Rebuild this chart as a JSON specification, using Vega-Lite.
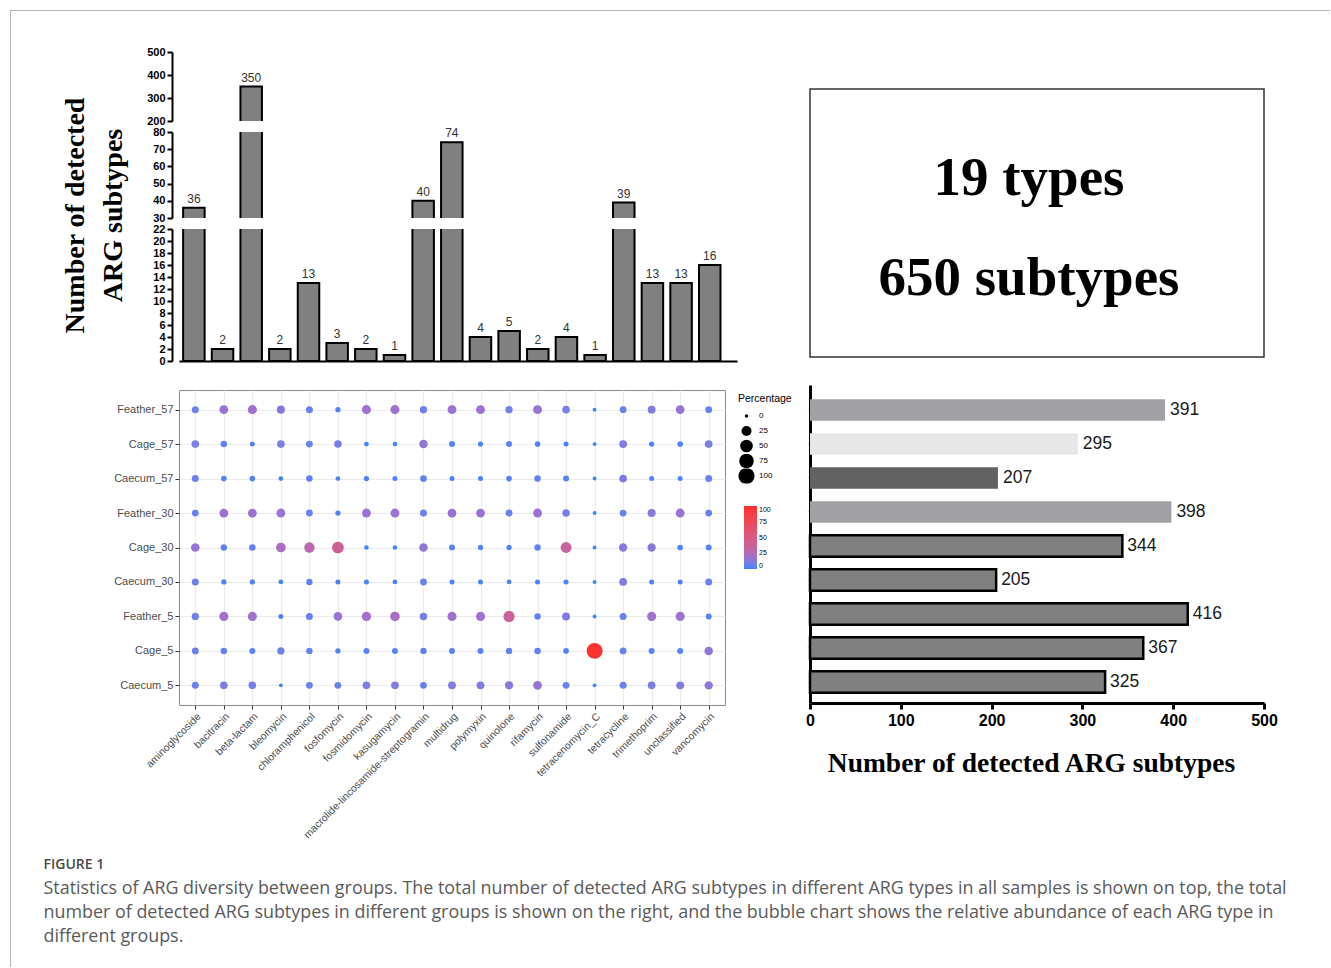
{
  "$schema": "https://vega.github.io/schema/vega-lite/v6.json",
  "padding": {"left": 10, "top": 10, "right": 0, "bottom": 0},
  "background": "white",
  "bounds": "flush",
  "spacing": 33,
  "resolve": {"scale": {"color": "independent", "size": "independent"}, "legend": {"color": "independent", "size": "independent"}},
  "config": {
    "view": {"stroke": null},
    "font": "Liberation Sans",
    "axis": {"labelFont": "Liberation Sans", "titleFont": "Liberation Sans"},
    "legend": {"labelFont": "Liberation Sans", "titleFont": "Liberation Sans"}
  },
  "datasets": {
    "bars": [
      {"type": "aminoglycoside", "n": 36},
      {"type": "bacitracin", "n": 2},
      {"type": "beta-lactam", "n": 350},
      {"type": "bleomycin", "n": 2},
      {"type": "chloramphenicol", "n": 13},
      {"type": "fosfomycin", "n": 3},
      {"type": "fosmidomycin", "n": 2},
      {"type": "kasugamycin", "n": 1},
      {"type": "macrolide-lincosamide-streptogramin", "n": 40},
      {"type": "multidrug", "n": 74},
      {"type": "polymyxin", "n": 4},
      {"type": "quinolone", "n": 5},
      {"type": "rifamycin", "n": 2},
      {"type": "sulfonamide", "n": 4},
      {"type": "tetracenomycin_C", "n": 1},
      {"type": "tetracycline", "n": 39},
      {"type": "trimethoprim", "n": 13},
      {"type": "unclassified", "n": 13},
      {"type": "vancomycin", "n": 16}
    ],
    "groups": [
      {"group": "Feather_57", "n": 391},
      {"group": "Cage_57", "n": 295},
      {"group": "Caecum_57", "n": 207},
      {"group": "Feather_30", "n": 398},
      {"group": "Cage_30", "n": 344},
      {"group": "Caecum_30", "n": 205},
      {"group": "Feather_5", "n": 416},
      {"group": "Cage_5", "n": 367},
      {"group": "Caecum_5", "n": 325}
    ],
    "summary": [
      {"line": 1, "text": "19 types"},
      {"line": 2, "text": "650 subtypes"}
    ],
    "caption": [
      {"line": 0, "text": "FIGURE 1"},
      {"line": 1, "text": "Statistics of ARG diversity between groups. The total number of detected ARG subtypes in different ARG types in all samples is shown on top, the total"},
      {"line": 2, "text": "number of detected ARG subtypes in different groups is shown on the right, and the bubble chart shows the relative abundance of each ARG type in"},
      {"line": 3, "text": "different groups."}
    ],
    "bubbles": [
      {"group":"Feather_57","type":"aminoglycoside","pct":8},{"group":"Feather_57","type":"bacitracin","pct":17},{"group":"Feather_57","type":"beta-lactam","pct":19},{"group":"Feather_57","type":"bleomycin","pct":13},{"group":"Feather_57","type":"chloramphenicol","pct":8},{"group":"Feather_57","type":"fosfomycin","pct":2.5},{"group":"Feather_57","type":"fosmidomycin","pct":19},{"group":"Feather_57","type":"kasugamycin","pct":19},{"group":"Feather_57","type":"macrolide-lincosamide-streptogramin","pct":9},{"group":"Feather_57","type":"multidrug","pct":17.5},{"group":"Feather_57","type":"polymyxin","pct":17.5},{"group":"Feather_57","type":"quinolone","pct":9},{"group":"Feather_57","type":"rifamycin","pct":17.5},{"group":"Feather_57","type":"sulfonamide","pct":10.5},{"group":"Feather_57","type":"tetracenomycin_C","pct":0.3},{"group":"Feather_57","type":"tetracycline","pct":7.5},{"group":"Feather_57","type":"trimethoprim","pct":12},{"group":"Feather_57","type":"unclassified","pct":16.5},{"group":"Feather_57","type":"vancomycin","pct":7},
      {"group":"Cage_57","type":"aminoglycoside","pct":10.5},{"group":"Cage_57","type":"bacitracin","pct":6},{"group":"Cage_57","type":"beta-lactam","pct":2},{"group":"Cage_57","type":"bleomycin","pct":11},{"group":"Cage_57","type":"chloramphenicol","pct":7.5},{"group":"Cage_57","type":"fosfomycin","pct":10},{"group":"Cage_57","type":"fosmidomycin","pct":1.5},{"group":"Cage_57","type":"kasugamycin","pct":1.5},{"group":"Cage_57","type":"macrolide-lincosamide-streptogramin","pct":15},{"group":"Cage_57","type":"multidrug","pct":4.5},{"group":"Cage_57","type":"polymyxin","pct":2.5},{"group":"Cage_57","type":"quinolone","pct":4.5},{"group":"Cage_57","type":"rifamycin","pct":3.5},{"group":"Cage_57","type":"sulfonamide","pct":2},{"group":"Cage_57","type":"tetracenomycin_C","pct":0.3},{"group":"Cage_57","type":"tetracycline","pct":12},{"group":"Cage_57","type":"trimethoprim","pct":2.5},{"group":"Cage_57","type":"unclassified","pct":3.5},{"group":"Cage_57","type":"vancomycin","pct":11},
      {"group":"Caecum_57","type":"aminoglycoside","pct":8},{"group":"Caecum_57","type":"bacitracin","pct":3.5},{"group":"Caecum_57","type":"beta-lactam","pct":3.5},{"group":"Caecum_57","type":"bleomycin","pct":1.5},{"group":"Caecum_57","type":"chloramphenicol","pct":6},{"group":"Caecum_57","type":"fosfomycin","pct":1.5},{"group":"Caecum_57","type":"fosmidomycin","pct":2.5},{"group":"Caecum_57","type":"kasugamycin","pct":2},{"group":"Caecum_57","type":"macrolide-lincosamide-streptogramin","pct":7},{"group":"Caecum_57","type":"multidrug","pct":2},{"group":"Caecum_57","type":"polymyxin","pct":2},{"group":"Caecum_57","type":"quinolone","pct":3.5},{"group":"Caecum_57","type":"rifamycin","pct":6},{"group":"Caecum_57","type":"sulfonamide","pct":4.5},{"group":"Caecum_57","type":"tetracenomycin_C","pct":0.3},{"group":"Caecum_57","type":"tetracycline","pct":11},{"group":"Caecum_57","type":"trimethoprim","pct":2},{"group":"Caecum_57","type":"unclassified","pct":2},{"group":"Caecum_57","type":"vancomycin","pct":8},
      {"group":"Feather_30","type":"aminoglycoside","pct":7},{"group":"Feather_30","type":"bacitracin","pct":17},{"group":"Feather_30","type":"beta-lactam","pct":17},{"group":"Feather_30","type":"bleomycin","pct":17.5},{"group":"Feather_30","type":"chloramphenicol","pct":7.5},{"group":"Feather_30","type":"fosfomycin","pct":2.5},{"group":"Feather_30","type":"fosmidomycin","pct":17.5},{"group":"Feather_30","type":"kasugamycin","pct":17.5},{"group":"Feather_30","type":"macrolide-lincosamide-streptogramin","pct":8},{"group":"Feather_30","type":"multidrug","pct":17},{"group":"Feather_30","type":"polymyxin","pct":17},{"group":"Feather_30","type":"quinolone","pct":7.5},{"group":"Feather_30","type":"rifamycin","pct":17.5},{"group":"Feather_30","type":"sulfonamide","pct":10},{"group":"Feather_30","type":"tetracenomycin_C","pct":0.3},{"group":"Feather_30","type":"tetracycline","pct":7},{"group":"Feather_30","type":"trimethoprim","pct":13},{"group":"Feather_30","type":"unclassified","pct":17.5},{"group":"Feather_30","type":"vancomycin","pct":7},
      {"group":"Cage_30","type":"aminoglycoside","pct":16},{"group":"Cage_30","type":"bacitracin","pct":5.5},{"group":"Cage_30","type":"beta-lactam","pct":6},{"group":"Cage_30","type":"bleomycin","pct":23},{"group":"Cage_30","type":"chloramphenicol","pct":28},{"group":"Cage_30","type":"fosfomycin","pct":40},{"group":"Cage_30","type":"fosmidomycin","pct":1.2},{"group":"Cage_30","type":"kasugamycin","pct":1.2},{"group":"Cage_30","type":"macrolide-lincosamide-streptogramin","pct":15},{"group":"Cage_30","type":"multidrug","pct":4.5},{"group":"Cage_30","type":"polymyxin","pct":2.5},{"group":"Cage_30","type":"quinolone","pct":2.5},{"group":"Cage_30","type":"rifamycin","pct":5.5},{"group":"Cage_30","type":"sulfonamide","pct":33},{"group":"Cage_30","type":"tetracenomycin_C","pct":0.3},{"group":"Cage_30","type":"tetracycline","pct":14},{"group":"Cage_30","type":"trimethoprim","pct":14},{"group":"Cage_30","type":"unclassified","pct":3.5},{"group":"Cage_30","type":"vancomycin","pct":4.5},
      {"group":"Caecum_30","type":"aminoglycoside","pct":8},{"group":"Caecum_30","type":"bacitracin","pct":2.5},{"group":"Caecum_30","type":"beta-lactam","pct":2.5},{"group":"Caecum_30","type":"bleomycin","pct":1.5},{"group":"Caecum_30","type":"chloramphenicol","pct":5.5},{"group":"Caecum_30","type":"fosfomycin","pct":2},{"group":"Caecum_30","type":"fosmidomycin","pct":2},{"group":"Caecum_30","type":"kasugamycin","pct":1.5},{"group":"Caecum_30","type":"macrolide-lincosamide-streptogramin","pct":7.5},{"group":"Caecum_30","type":"multidrug","pct":2},{"group":"Caecum_30","type":"polymyxin","pct":2},{"group":"Caecum_30","type":"quinolone","pct":1.5},{"group":"Caecum_30","type":"rifamycin","pct":2},{"group":"Caecum_30","type":"sulfonamide","pct":2},{"group":"Caecum_30","type":"tetracenomycin_C","pct":0.3},{"group":"Caecum_30","type":"tetracycline","pct":11},{"group":"Caecum_30","type":"trimethoprim","pct":2},{"group":"Caecum_30","type":"unclassified","pct":2},{"group":"Caecum_30","type":"vancomycin","pct":8},
      {"group":"Feather_5","type":"aminoglycoside","pct":9},{"group":"Feather_5","type":"bacitracin","pct":19},{"group":"Feather_5","type":"beta-lactam","pct":19},{"group":"Feather_5","type":"bleomycin","pct":2},{"group":"Feather_5","type":"chloramphenicol","pct":8},{"group":"Feather_5","type":"fosfomycin","pct":16},{"group":"Feather_5","type":"fosmidomycin","pct":20},{"group":"Feather_5","type":"kasugamycin","pct":22},{"group":"Feather_5","type":"macrolide-lincosamide-streptogramin","pct":10},{"group":"Feather_5","type":"multidrug","pct":19},{"group":"Feather_5","type":"polymyxin","pct":19},{"group":"Feather_5","type":"quinolone","pct":36},{"group":"Feather_5","type":"rifamycin","pct":5.5},{"group":"Feather_5","type":"sulfonamide","pct":12},{"group":"Feather_5","type":"tetracenomycin_C","pct":0.3},{"group":"Feather_5","type":"tetracycline","pct":8},{"group":"Feather_5","type":"trimethoprim","pct":19},{"group":"Feather_5","type":"unclassified","pct":19},{"group":"Feather_5","type":"vancomycin","pct":4.5},
      {"group":"Cage_5","type":"aminoglycoside","pct":7},{"group":"Cage_5","type":"bacitracin","pct":6},{"group":"Cage_5","type":"beta-lactam","pct":4.5},{"group":"Cage_5","type":"bleomycin","pct":9},{"group":"Cage_5","type":"chloramphenicol","pct":5.5},{"group":"Cage_5","type":"fosfomycin","pct":2.5},{"group":"Cage_5","type":"fosmidomycin","pct":4.5},{"group":"Cage_5","type":"kasugamycin","pct":4.5},{"group":"Cage_5","type":"macrolide-lincosamide-streptogramin","pct":5.5},{"group":"Cage_5","type":"multidrug","pct":4.5},{"group":"Cage_5","type":"polymyxin","pct":4.5},{"group":"Cage_5","type":"quinolone","pct":5.5},{"group":"Cage_5","type":"rifamycin","pct":6},{"group":"Cage_5","type":"sulfonamide","pct":3.5},{"group":"Cage_5","type":"tetracenomycin_C","pct":97},{"group":"Cage_5","type":"tetracycline","pct":7},{"group":"Cage_5","type":"trimethoprim","pct":4.5},{"group":"Cage_5","type":"unclassified","pct":4.5},{"group":"Cage_5","type":"vancomycin","pct":15},
      {"group":"Caecum_5","type":"aminoglycoside","pct":8},{"group":"Caecum_5","type":"bacitracin","pct":11},{"group":"Caecum_5","type":"beta-lactam","pct":10.5},{"group":"Caecum_5","type":"bleomycin","pct":0.3},{"group":"Caecum_5","type":"chloramphenicol","pct":7.5},{"group":"Caecum_5","type":"fosfomycin","pct":7.5},{"group":"Caecum_5","type":"fosmidomycin","pct":11},{"group":"Caecum_5","type":"kasugamycin","pct":11},{"group":"Caecum_5","type":"macrolide-lincosamide-streptogramin","pct":7},{"group":"Caecum_5","type":"multidrug","pct":12},{"group":"Caecum_5","type":"polymyxin","pct":12},{"group":"Caecum_5","type":"quinolone","pct":13},{"group":"Caecum_5","type":"rifamycin","pct":16.5},{"group":"Caecum_5","type":"sulfonamide","pct":7.5},{"group":"Caecum_5","type":"tetracenomycin_C","pct":0.3},{"group":"Caecum_5","type":"tetracycline","pct":8},{"group":"Caecum_5","type":"trimethoprim","pct":11},{"group":"Caecum_5","type":"unclassified","pct":12},{"group":"Caecum_5","type":"vancomycin","pct":14.5}
    ]
  },
  "hconcat": [
    {
      "vconcat": [
        {"width": 1320, "height": 1, "view": {"fill": "#b4b4b4", "stroke": null}, "data": {"values": []}, "mark": "point"},
        {"width": 1, "height": 956, "view": {"fill": "#b4b4b4", "stroke": null}, "data": {"values": []}, "mark": "point"}
      ],
      "spacing": 0,
      "bounds": "flush"
    },
    {
      "vconcat": [
        {
          "width": 1, "height": 939,
          "data": {"name": "caption"},
          "encoding": {
            "y": {"field": "line", "type": "quantitative", "scale": {"domain": [-35.625, 3.5], "nice": false, "zero": false, "reverse": true}, "axis": null},
            "text": {"field": "text"}
          },
          "layer": [
            {
              "transform": [{"filter": "datum.line == 0"}],
              "mark": {"type": "text", "align": "left", "baseline": "middle", "font": "Open Sans", "fontWeight": 600, "fontSize": 14, "color": "#4a4a4a"}
            },
            {
              "transform": [{"filter": "datum.line > 0"}],
              "mark": {"type": "text", "align": "left", "baseline": "middle", "font": "Open Sans", "fontSize": 17.9, "color": "#5a5a5a"}
            }
          ]
        }
      ],
      "bounds": "flush"
    },
    {"width": 70, "height": 1, "data": {"values": []}, "mark": "point"},
    {
      "vconcat": [
        {"width": 558, "height": 31, "data": {"values": []}, "mark": "point"},
        {
          "width": 558, "height": 69,
          "data": {"name": "bars"},
          "encoding": {
            "x": {"field": "type", "type": "nominal", "sort": null, "scale": {"paddingInner": 0.25, "paddingOuter": 0.36, "align": 0.2}, "axis": null},
            "y": {"field": "n", "type": "quantitative", "scale": {"domain": [200, 500], "nice": false, "zero": false},
                  "axis": {"values": [200, 300, 400, 500], "offset": 7, "domainColor": "#000", "domainWidth": 2, "tickColor": "#000", "tickWidth": 2, "tickSize": 5, "labelFontWeight": "bold", "labelFontSize": 11, "labelColor": "#000", "labelPadding": 2, "labelOverlap": false, "grid": false, "title": null}}
          },
          "layer": [
            {"mark": {"type": "bar", "clip": true, "fill": "#808080", "stroke": "#000", "strokeWidth": 2}},
            {
              "transform": [{"filter": "datum.n >= 200"}],
              "mark": {"type": "text", "baseline": "bottom", "dy": -2, "fontSize": 12, "color": "#333"},
              "encoding": {"text": {"field": "n"}}
            }
          ]
        },
        {
          "width": 558, "height": 86,
          "data": {"name": "bars"},
          "encoding": {
            "x": {"field": "type", "type": "nominal", "sort": null, "scale": {"paddingInner": 0.25, "paddingOuter": 0.36, "align": 0.2}, "axis": null},
            "y": {"field": "n", "type": "quantitative", "scale": {"domain": [30, 80], "nice": false, "zero": false},
                  "axis": {"values": [30, 40, 50, 60, 70, 80], "offset": 7, "domainColor": "#000", "domainWidth": 2, "tickColor": "#000", "tickWidth": 2, "tickSize": 5, "labelFontWeight": "bold", "labelFontSize": 11, "labelColor": "#000", "labelPadding": 2, "labelOverlap": false, "grid": false,
                           "title": ["Number of detected", "ARG subtypes"], "titleFont": "Liberation Serif", "titleFontSize": 28, "titleFontWeight": "bold", "titleColor": "#000", "titleLineHeight": 38, "titleAngle": -90, "titleAlign": "center", "titleBaseline": "middle", "titleX": -97, "titleY": 83}}
          },
          "layer": [
            {"mark": {"type": "bar", "clip": true, "fill": "#808080", "stroke": "#000", "strokeWidth": 2}},
            {
              "transform": [{"filter": "datum.n >= 30 && datum.n <= 80"}],
              "mark": {"type": "text", "baseline": "bottom", "dy": -2, "fontSize": 12, "color": "#333"},
              "encoding": {"text": {"field": "n"}}
            }
          ]
        },
        {
          "width": 558, "height": 132,
          "data": {"name": "bars"},
          "encoding": {
            "x": {"field": "type", "type": "nominal", "sort": null, "scale": {"paddingInner": 0.25, "paddingOuter": 0.36, "align": 0.2},
                  "axis": {"labels": false, "ticks": false, "title": null, "domainColor": "#000", "domainWidth": 2, "grid": false}},
            "y": {"field": "n", "type": "quantitative", "scale": {"domain": [0, 22], "nice": false, "zero": false},
                  "axis": {"values": [0, 2, 4, 6, 8, 10, 12, 14, 16, 18, 20, 22], "offset": 7, "domainColor": "#000", "domainWidth": 2, "tickColor": "#000", "tickWidth": 2, "tickSize": 5, "labelFontWeight": "bold", "labelFontSize": 11, "labelColor": "#000", "labelPadding": 2, "labelOverlap": false, "grid": false, "title": null}}
          },
          "layer": [
            {"mark": {"type": "bar", "clip": true, "fill": "#808080", "stroke": "#000", "strokeWidth": 2}},
            {
              "transform": [{"filter": "datum.n <= 22"}],
              "mark": {"type": "text", "baseline": "bottom", "dy": -2, "fontSize": 12, "color": "#333"},
              "encoding": {"text": {"field": "n"}}
            }
          ]
        },
        {"width": 558, "height": 7, "data": {"values": []}, "mark": "point"},
        {
          "width": 546, "height": 315,
          "view": {"stroke": "#8a8a8a", "strokeWidth": 1},
          "data": {"name": "bubbles"},
          "mark": {"type": "circle", "opacity": 1},
          "encoding": {
            "x": {"field": "type", "type": "nominal",
                  "sort": ["aminoglycoside", "bacitracin", "beta-lactam", "bleomycin", "chloramphenicol", "fosfomycin", "fosmidomycin", "kasugamycin", "macrolide-lincosamide-streptogramin", "multidrug", "polymyxin", "quinolone", "rifamycin", "sulfonamide", "tetracenomycin_C", "tetracycline", "trimethoprim", "unclassified", "vancomycin"],
                  "scale": {"type": "point", "padding": 0.572},
                  "axis": {"labelAngle": -45, "labelAlign": "right", "labelBaseline": "top", "grid": true, "gridColor": "#EBEBEB", "gridWidth": 1.2, "domain": false, "tickColor": "#333", "tickSize": 4, "labelColor": "#4D4D4D", "labelFontSize": 10.5, "labelPadding": 2, "title": null}},
            "y": {"field": "group", "type": "nominal",
                  "sort": ["Feather_57", "Cage_57", "Caecum_57", "Feather_30", "Cage_30", "Caecum_30", "Feather_5", "Cage_5", "Caecum_5"],
                  "scale": {"type": "point", "padding": 0.57},
                  "axis": {"grid": true, "gridColor": "#EBEBEB", "gridWidth": 1.2, "domain": false, "tickColor": "#333", "tickSize": 4, "labelColor": "#4D4D4D", "labelFontSize": 11, "labelPadding": 2, "title": null}},
            "size": {"field": "pct", "type": "quantitative",
                     "scale": {"type": "pow", "exponent": 0.75, "domain": [0, 100], "range": [12, 260]},
                     "legend": {"title": "Percentage", "orient": "none", "legendX": 559, "legendY": 4, "values": [0, 25, 50, 75, 100], "symbolType": "circle", "symbolFillColor": "#000", "symbolStrokeColor": "#000", "symbolStrokeWidth": 0, "symbolOpacity": 1, "titleFontSize": 10.5, "titleFontWeight": "normal", "titleColor": "#000", "labelFontSize": 8, "labelColor": "#000", "clipHeight": 15, "rowPadding": 0, "titlePadding": 4}},
            "color": {"field": "pct", "type": "quantitative",
                      "scale": {"domain": [0, 3, 9, 17, 33, 100], "range": ["#3D83FF", "#5282FA", "#7180EA", "#9973D4", "#C5649E", "#FF2E2E"], "interpolate": "lab"},
                      "legend": {"title": null, "orient": "none", "legendX": 565, "legendY": 116, "direction": "vertical", "gradientLength": 63, "gradientThickness": 13, "gradientStrokeWidth": 0, "values": [0, 25, 50, 75, 100], "labelFontSize": 7, "labelColor": "#000"}}
          }
        }
      ],
      "spacing": 11,
      "bounds": "flush",
      "resolve": {"scale": {"color": "independent", "size": "independent"}, "legend": {"color": "independent", "size": "independent"}}
    },
    {"width": 565, "height": 1, "data": {"values": []}, "mark": "point"},
    {
      "vconcat": [
        {"width": 454, "height": 68, "data": {"values": []}, "mark": "point"},
        {
          "width": 454, "height": 268,
          "view": {"stroke": "#333", "strokeWidth": 1.5},
          "data": {"name": "summary"},
          "mark": {"type": "text", "font": "Liberation Serif", "fontWeight": "bold", "fontSize": 55, "baseline": "alphabetic", "color": "#000", "dx": -8},
          "encoding": {
            "y": {"field": "line", "type": "ordinal", "scale": {"type": "point", "padding": 0.84, "align": 0.631}, "axis": null},
            "text": {"field": "text"}
          }
        },
        {"width": 454, "height": 6, "data": {"values": []}, "mark": "point"},
        {
          "width": 454, "height": 318,
          "data": {"name": "groups"},
          "encoding": {
            "y": {"field": "group", "type": "nominal", "sort": null, "scale": {"paddingInner": 0.37, "paddingOuter": 0.36, "align": 0.58},
                  "axis": {"labels": false, "title": null, "domainColor": "#000", "domainWidth": 3, "tickColor": "#CFCFCF", "tickSize": 3, "tickWidth": 1, "grid": false}},
            "x": {"field": "n", "type": "quantitative", "scale": {"domain": [0, 500], "nice": false},
                  "axis": {"values": [0, 100, 200, 300, 400, 500], "domainColor": "#000", "domainWidth": 3, "tickColor": "#000", "tickWidth": 3, "tickSize": 6, "labelFontWeight": "bold", "labelFontSize": 16, "labelColor": "#000", "labelFlush": false, "labelPadding": 3, "grid": false,
                           "title": "Number of detected ARG subtypes", "titleFont": "Liberation Serif", "titleFontSize": 27.5, "titleFontWeight": "bold", "titleColor": "#000", "titlePadding": 21, "titleX": 221}}
          },
          "layer": [
            {
              "mark": {"type": "bar", "stroke": "#000"},
              "encoding": {
                "color": {"field": "group", "type": "nominal", "legend": null,
                          "scale": {"domain": ["Feather_57", "Cage_57", "Caecum_57", "Feather_30", "Cage_30", "Caecum_30", "Feather_5", "Cage_5", "Caecum_5"],
                                    "range": ["#A1A0A5", "#E7E7E7", "#626262", "#A1A0A5", "#808080", "#808080", "#808080", "#808080", "#808080"]}},
                "strokeWidth": {"condition": {"test": "indexof(['Cage_30','Caecum_30','Feather_5','Cage_5','Caecum_5'], datum.group) >= 0", "value": 2.5}, "value": 0}
              }
            },
            {
              "mark": {"type": "text", "align": "left", "baseline": "middle", "dx": 5, "fontSize": 17.5, "color": "#1a1a1a"},
              "encoding": {"text": {"field": "n"}}
            }
          ]
        }
      ],
      "spacing": 11,
      "bounds": "flush",
      "resolve": {"scale": {"color": "independent", "size": "independent"}, "legend": {"color": "independent", "size": "independent"}}
    }
  ]
}
